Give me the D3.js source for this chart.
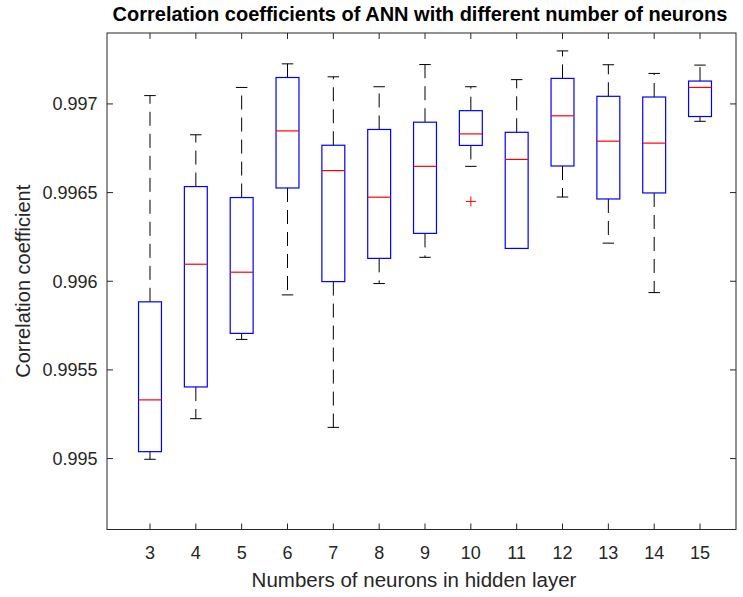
<!DOCTYPE html>
<html>
<head>
<meta charset="utf-8">
<script src="https://cdn.jsdelivr.net/npm/d3@7/dist/d3.min.js"></script>
<style>
  html, body { margin: 0; padding: 0; background: #fff; }
  svg { display: block; font-family: "Liberation Sans", Arial, Helvetica, sans-serif; }
</style>
</head>
<body>
<svg id="chart" width="743" height="597"></svg>
<script>
// Number of neurons in the hidden layer (one box per setting)
const neurons = [3, 4, 5, 6, 7, 8, 9, 10, 11, 12, 13, 14, 15];

// Box statistics of the correlation coefficient per network size
const whiskerLow  = [0.994996, 0.995225, 0.995672, 0.995923, 0.995176, 0.995987, 0.996135, 0.996648, 0.996185, 0.996475, 0.996215, 0.995936, 0.996902];
const q1          = [0.995039, 0.995404, 0.995706, 0.996526, 0.995998, 0.996129, 0.996270, 0.996766, 0.996185, 0.996650, 0.996464, 0.996498, 0.996929];
const medians     = [0.995331, 0.996096, 0.996051, 0.996848, 0.996624, 0.996474, 0.996648, 0.996831, 0.996687, 0.996933, 0.996790, 0.996779, 0.997093];
const q3          = [0.995884, 0.996534, 0.996472, 0.997149, 0.996767, 0.996856, 0.996897, 0.996962, 0.996840, 0.997144, 0.997043, 0.997039, 0.997129];
const whiskerHigh = [0.997047, 0.996826, 0.997093, 0.997226, 0.997153, 0.997097, 0.997222, 0.997097, 0.997137, 0.997299, 0.997221, 0.997172, 0.997219];

// Outliers: [neurons, value]
const outlierN = [10];
const outlierV = [0.996450];

// Axis ticks
const yTicks = [0.995, 0.9955, 0.996, 0.9965, 0.997];
const yTickLabels = ["0.995", "0.9955", "0.996", "0.9965", "0.997"];
const xTicks = neurons;

const svg = d3.select("#chart");
const plot = { left: 107, right: 736, top: 33, bottom: 529.5 };
const axisColor = "#262626";

const x = d3.scaleLinear().domain([2.062, 15.785]).range([plot.left, plot.right]);
const y = d3.scaleLinear().domain([0.9946, 0.9974]).range([plot.bottom, plot.top]);

const boxW = x(3.25) - x(3);   // half box width
const capW = x(3.125) - x(3);  // half cap width

const rows = neurons.map((n, i) => ({
  n, lo: whiskerLow[i], q1: q1[i], med: medians[i], q3: q3[i], hi: whiskerHigh[i]
}));

const g = svg.append("g");

// Whiskers (dashed, drawn outward from the box)
g.selectAll(".wUp").data(rows).enter().append("line")
  .attr("x1", d => x(d.n)).attr("x2", d => x(d.n))
  .attr("y1", d => y(d.q3)).attr("y2", d => y(d.hi))
  .attr("stroke", "#000").attr("stroke-width", 1).attr("stroke-dasharray", "14,8");
g.selectAll(".wDn").data(rows).enter().append("line")
  .attr("x1", d => x(d.n)).attr("x2", d => x(d.n))
  .attr("y1", d => y(d.q1)).attr("y2", d => y(d.lo))
  .attr("stroke", "#000").attr("stroke-width", 1).attr("stroke-dasharray", "14,8");

// Whisker caps
["hi", "lo"].forEach(k => {
  g.selectAll(".cap-" + k).data(rows).enter().append("line")
    .attr("x1", d => x(d.n) - capW).attr("x2", d => x(d.n) + capW)
    .attr("y1", d => y(d[k])).attr("y2", d => y(d[k]))
    .attr("stroke", "#000").attr("stroke-width", 1);
});

// Boxes
g.selectAll(".box").data(rows).enter().append("rect")
  .attr("x", d => x(d.n) - boxW).attr("width", 2 * boxW)
  .attr("y", d => y(d.q3)).attr("height", d => y(d.q1) - y(d.q3))
  .attr("fill", "none").attr("stroke", "#0000ff").attr("stroke-width", 1.2);

// Medians
g.selectAll(".med").data(rows).enter().append("line")
  .attr("x1", d => x(d.n) - boxW).attr("x2", d => x(d.n) + boxW)
  .attr("y1", d => y(d.med)).attr("y2", d => y(d.med))
  .attr("stroke", "#ff0000").attr("stroke-width", 1.2);

// Outliers as red plus markers
const outs = outlierN.map((n, i) => ({ n, v: outlierV[i] }));
const ps = 5;
outs.forEach(o => {
  g.append("path")
    .attr("d", `M${x(o.n) - ps},${y(o.v)}H${x(o.n) + ps}M${x(o.n)},${y(o.v) - ps}V${y(o.v) + ps}`)
    .attr("stroke", "#ff0000").attr("stroke-width", 1).attr("fill", "none");
});

// Axes frame
const tickLen = 6;
const axisG = svg.append("g").attr("stroke", axisColor).attr("stroke-width", 1).attr("fill", "none");
axisG.append("rect")
  .attr("x", plot.left).attr("y", plot.top)
  .attr("width", plot.right - plot.left).attr("height", plot.bottom - plot.top);

// Ticks (pointing inward on all four sides)
xTicks.forEach(t => {
  axisG.append("line").attr("x1", x(t)).attr("x2", x(t)).attr("y1", plot.bottom).attr("y2", plot.bottom - tickLen);
  axisG.append("line").attr("x1", x(t)).attr("x2", x(t)).attr("y1", plot.top).attr("y2", plot.top + tickLen);
});
yTicks.forEach(t => {
  axisG.append("line").attr("x1", plot.left).attr("x2", plot.left + tickLen).attr("y1", y(t)).attr("y2", y(t));
  axisG.append("line").attr("x1", plot.right).attr("x2", plot.right - tickLen).attr("y1", y(t)).attr("y2", y(t));
});

// Tick labels
svg.append("g").selectAll("text").data(xTicks).enter().append("text")
  .attr("x", d => x(d)).attr("y", 559)
  .attr("text-anchor", "middle").attr("font-size", 18).attr("fill", axisColor)
  .text(d => d);
svg.append("g").selectAll("text").data(yTicks).enter().append("text")
  .attr("x", 97.5).attr("y", d => y(d) + 6.5)
  .attr("text-anchor", "end").attr("font-size", 18).attr("fill", axisColor)
  .text((d, i) => yTickLabels[i]);

// Axis titles
svg.append("text")
  .attr("x", 414).attr("y", 587)
  .attr("text-anchor", "middle").attr("font-size", 20.5).attr("fill", axisColor)
  .text("Numbers of neurons in hidden layer");
svg.append("text")
  .attr("transform", `translate(30,${(plot.top + plot.bottom) / 2}) rotate(-90)`)
  .attr("text-anchor", "middle").attr("font-size", 20).attr("fill", axisColor)
  .text("Correlation coefficient");

// Chart title
svg.append("text")
  .attr("x", 420).attr("y", 21)
  .attr("text-anchor", "middle").attr("font-size", 20).attr("font-weight", "bold").attr("fill", "#000")
  .text("Correlation coefficients of ANN with different number of neurons");
</script>
</body>
</html>
